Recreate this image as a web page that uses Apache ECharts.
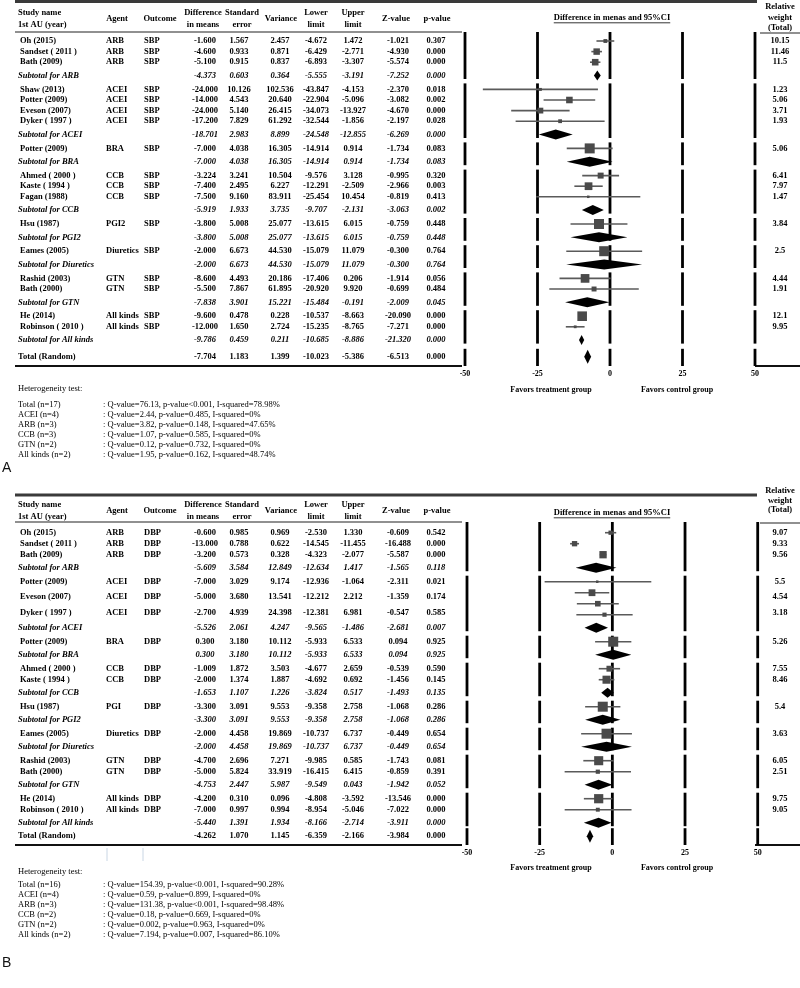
<!DOCTYPE html>
<html><head><meta charset="utf-8">
<script src="https://cdn.jsdelivr.net/npm/echarts@6/dist/echarts.min.js"></script>
<style>html,body{margin:0;padding:0;background:#fff}#c{width:800px;height:988px}</style>
</head><body><div id="c"></div>
<script>
// ================= DATA =================
const groupNames = ['ARB','ACEI','BRA','CCB','PGI2','Diuretics','GTN','All kinds'];
const xTicks = [-50, -25, 0, 25, 50];

// ---- Panel A (SBP) table ----
const A_outcome = 'SBP';
const A_study = ['Oh (2015)','Sandset ( 2011 )','Bath (2009)','Shaw (2013)','Potter (2009)','Eveson (2007)','Dyker ( 1997 )','Potter (2009)','Ahmed ( 2000 )','Kaste ( 1994 )','Fagan (1988)','Hsu (1987)','Eames (2005)','Rashid (2003)','Bath (2000)','He (2014)','Robinson ( 2010 )'];
const A_group = [0,0,0,1,1,1,1,2,3,3,3,4,5,6,6,7,7];
const A_agent = ['ARB','ARB','ARB','ACEI','ACEI','ACEI','ACEI','BRA','CCB','CCB','CCB','PGI2','Diuretics','GTN','GTN','All kinds','All kinds'];
const A_diff = [-1.6,-4.6,-5.1,-24,-14,-24,-17.2,-7,-3.224,-7.4,-7.5,-3.8,-2,-8.6,-5.5,-9.6,-12];
const A_se = [1.567,0.933,0.915,10.126,4.543,5.140,7.829,4.038,3.241,2.495,9.160,5.008,6.673,4.493,7.867,0.478,1.650];
const A_var = [2.457,0.871,0.837,102.536,20.640,26.415,61.292,16.305,10.504,6.227,83.911,25.077,44.530,20.186,61.895,0.228,2.724];
const A_lower = [-4.672,-6.429,-6.893,-43.847,-22.904,-34.073,-32.544,-14.914,-9.576,-12.291,-25.454,-13.615,-15.079,-17.406,-20.920,-10.537,-15.235];
const A_upper = [1.472,-2.771,-3.307,-4.153,-5.096,-13.927,-1.856,0.914,3.128,-2.509,10.454,6.015,11.079,0.206,9.920,-8.663,-8.765];
const A_z = [-1.021,-4.930,-5.574,-2.370,-3.082,-4.670,-2.197,-1.734,-0.995,-2.966,-0.819,-0.759,-0.300,-1.914,-0.699,-20.090,-7.271];
const A_p = [0.307,0,0,0.018,0.002,0,0.028,0.083,0.320,0.003,0.413,0.448,0.764,0.056,0.484,0,0];
const A_weight = ['10.15','11.46','11.5','1.23','5.06','3.71','1.93','5.06','6.41','7.97','1.47','3.84','2.5','4.44','1.91','12.1','9.95'];
const A_subDiff = [-4.373,-18.701,-7.000,-5.919,-3.800,-2.000,-7.838,-9.786];
const A_subSe = [0.603,2.983,4.038,1.933,5.008,6.673,3.901,0.459];
const A_subVar = [0.364,8.899,16.305,3.735,25.077,44.530,15.221,0.211];
const A_subLower = [-5.555,-24.548,-14.914,-9.707,-13.615,-15.079,-15.484,-10.685];
const A_subUpper = [-3.191,-12.855,0.914,-2.131,6.015,11.079,-0.191,-8.886];
const A_subZ = [-7.252,-6.269,-1.734,-3.063,-0.759,-0.300,-2.009,-21.320];
const A_subP = [0,0,0.083,0.002,0.448,0.764,0.045,0];
const A_total = [-7.704,1.183,1.399,-10.023,-5.386,-6.513,0];
// Panel A plotted marks (as drawn)
const A_plotGroup = A_group;
const A_plotEst = A_diff;
const A_plotLo = A_lower;
const A_plotHi = A_upper;
const A_plotSubEst = A_subDiff;
const A_plotSubLo = A_subLower;
const A_plotSubHi = A_subUpper;
const A_plotTotal = [-7.7, -8.9, -6.5];
const A_hetLabels = ['Total (n=17)','ACEI (n=4)','ARB (n=3)','CCB (n=3)','GTN (n=2)','All kinds (n=2)'];
const A_hetText = [': Q-value=76.13, p-value<0.001, I-squared=78.98%', ': Q-value=2.44, p-value=0.485, I-squared=0%', ': Q-value=3.82, p-value=0.148, I-squared=47.65%', ': Q-value=1.07, p-value=0.585, I-squared=0%', ': Q-value=0.12, p-value=0.732, I-squared=0%', ': Q-value=1.95, p-value=0.162, I-squared=48.74%'];

// ---- Panel B (DBP) table ----
const B_outcome = 'DBP';
const B_study = ['Oh (2015)','Sandset ( 2011 )','Bath (2009)','Potter (2009)','Eveson (2007)','Dyker ( 1997 )','Potter (2009)','Ahmed ( 2000 )','Kaste ( 1994 )','Hsu (1987)','Eames (2005)','Rashid (2003)','Bath (2000)','He (2014)','Robinson ( 2010 )'];
const B_group = [0,0,0,1,1,1,2,3,3,4,5,6,6,7,7];
const B_agent = ['ARB','ARB','ARB','ACEI','ACEI','ACEI','BRA','CCB','CCB','PGI','Diuretics','GTN','GTN','All kinds','All kinds'];
const B_diff = [-0.6,-13,-3.2,-7,-5,-2.7,0.3,-1.009,-2,-3.3,-2,-4.7,-5,-4.2,-7];
const B_se = [0.985,0.788,0.573,3.029,3.680,4.939,3.180,1.872,1.374,3.091,4.458,2.696,5.824,0.310,0.997];
const B_var = [0.969,0.622,0.328,9.174,13.541,24.398,10.112,3.503,1.887,9.553,19.869,7.271,33.919,0.096,0.994];
const B_lower = [-2.530,-14.545,-4.323,-12.936,-12.212,-12.381,-5.933,-4.677,-4.692,-9.358,-10.737,-9.985,-16.415,-4.808,-8.954];
const B_upper = [1.330,-11.455,-2.077,-1.064,2.212,6.981,6.533,2.659,0.692,2.758,6.737,0.585,6.415,-3.592,-5.046];
const B_z = [-0.609,-16.488,-5.587,-2.311,-1.359,-0.547,0.094,-0.539,-1.456,-1.068,-0.449,-1.743,-0.859,-13.546,-7.022];
const B_p = [0.542,0,0,0.021,0.174,0.585,0.925,0.590,0.145,0.286,0.654,0.081,0.391,0,0];
const B_weight = ['9.07','9.33','9.56','5.5','4.54','3.18','5.26','7.55','8.46','5.4','3.63','6.05','2.51','9.75','9.05'];
const B_subDiff = [-5.609,-5.526,0.300,-1.653,-3.300,-2.000,-4.753,-5.440];
const B_subSe = [3.584,2.061,3.180,1.107,3.091,4.458,2.447,1.391];
const B_subVar = [12.849,4.247,10.112,1.226,9.553,19.869,5.987,1.934];
const B_subLower = [-12.634,-9.565,-5.933,-3.824,-9.358,-10.737,-9.549,-8.166];
const B_subUpper = [1.417,-1.486,6.533,0.517,2.758,6.737,0.043,-2.714];
const B_subZ = [-1.565,-2.681,0.094,-1.493,-1.068,-0.449,-1.942,-3.911];
const B_subP = [0.118,0.007,0.925,0.135,0.286,0.654,0.052,0];
const B_total = [-4.262,1.070,1.145,-6.359,-2.166,-3.984,0];
// Panel B plotted marks (as drawn in the figure)
const B_plotGroup = [0,0,0,1,1,1,1,2,3,3,4,5,6,6,7,7];
const B_plotEst = [-0.6,-13,-3.2,-5.2,-7,-5,-2.7,0.3,-1.009,-2,-3.3,-2,-4.7,-5,-4.7,-5];
const B_plotLo = [-2.53,-14.545,-4.323,-23.3,-12.936,-12.212,-12.381,-5.933,-4.677,-4.692,-9.358,-10.737,-9.985,-16.415,-9.8,-16.4];
const B_plotHi = [1.33,-11.455,-2.077,13.4,-1.064,2.212,6.981,6.533,2.659,0.692,2.758,6.737,0.585,6.415,0.0,6.6];
const B_plotSubEst = [-5.609,-5.526,0.3,-1.653,-3.3,-2,-4.753,-4.75];
const B_plotSubLo = [-12.634,-9.565,-5.933,-3.824,-9.358,-10.737,-9.549,-9.8];
const B_plotSubHi = [1.417,-1.486,6.533,0.517,2.758,6.737,0.043,-0.3];
const B_plotTotal = [-7.7, -8.8, -6.6];
const B_hetLabels = ['Total (n=16)','ACEI (n=4)','ARB (n=3)','CCB (n=2)','GTN (n=2)','All kinds (n=2)'];
const B_hetText = [': Q-value=154.39, p-value<0.001, I-squared=90.28%', ': Q-value=0.59, p-value=0.899, I-squared=0%', ': Q-value=131.38, p-value<0.001, I-squared=98.48%', ': Q-value=0.18, p-value=0.669, I-squared=0%', ': Q-value=0.002, p-value=0.963, I-squared=0%', ': Q-value=7.194, p-value=0.007, I-squared=86.10%'];

// ================= LAYOUT / STYLE =================
const SERIF = '"Liberation Serif","Times New Roman",serif';
const FS = 8.5;
const COL = { name: 20, nameSub: 18, agent: 106, outcome: 144, nums: [205, 239, 280, 316, 353, 398, 436], weight: 780 };
const HDR = [
  { t: ['Agent'], x: 117 }, { t: ['Outcome'], x: 160 }, { t: ['Difference', 'in means'], x: 203 },
  { t: ['Standard', 'error'], x: 242 }, { t: ['Variance'], x: 281 }, { t: ['Lower', 'limit'], x: 316 },
  { t: ['Upper', 'limit'], x: 353 }, { t: ['Z-value'], x: 396 }, { t: ['p-value'], x: 437 }
];
const LAY = {
  A: { top: 1.5, hdr1: 13, hdr2: 25, hdrMid: 19, hdrLine: 32, firstRow: 41, ss: 10.6, sb: 13.3, bs: 13.9, bt: 16.7, bottom: 366,
       favorsY: 390, titleY: 18, rw: [7, 18, 28], fLeft: 465, fWidth: 290, hetTitle: 388.3, het0: 405, hetStep: 9.9, label: 'A', labelY: 468, totalH: 14 },
  B: { top: 495, hdr1: 505, hdr2: 516.7, hdrMid: 511, hdrLine: 522, firstRow: 532.7, ss: 11.0, sb: 13.0, bs: 14.0, bt: 13.5, bottom: 845,
       favorsY: 868, titleY: 513, rw: [491, 500.5, 510], fLeft: 467, fWidth: 290.7, hetTitle: 871.7, het0: 885, hetStep: 10, label: 'B', labelY: 963, totalH: 13 }
};

const PANELS = {
  A: { outcome: A_outcome, study: A_study, group: A_group, agent: A_agent,
       nums: [A_diff, A_se, A_var, A_lower, A_upper, A_z, A_p], weight: A_weight,
       sub: [A_subDiff, A_subSe, A_subVar, A_subLower, A_subUpper, A_subZ, A_subP], total: A_total,
       pGroup: A_plotGroup, pEst: A_plotEst, pLo: A_plotLo, pHi: A_plotHi,
       pSubEst: A_plotSubEst, pSubLo: A_plotSubLo, pSubHi: A_plotSubHi, pTotal: A_plotTotal,
       hetL: A_hetLabels, hetT: A_hetText },
  B: { outcome: B_outcome, study: B_study, group: B_group, agent: B_agent,
       nums: [B_diff, B_se, B_var, B_lower, B_upper, B_z, B_p], weight: B_weight,
       sub: [B_subDiff, B_subSe, B_subVar, B_subLower, B_subUpper, B_subZ, B_subP], total: B_total,
       pGroup: B_plotGroup, pEst: B_plotEst, pLo: B_plotLo, pHi: B_plotHi,
       pSubEst: B_plotSubEst, pSubLo: B_plotSubLo, pSubHi: B_plotSubHi, pTotal: B_plotTotal,
       hetL: B_hetLabels, hetT: B_hetText }
};

const fmt = v => (Math.abs(v) < 1e-12 ? 0 : v).toFixed(3);
const measureCtx = document.createElement('canvas').getContext('2d');
function textW(s, font) { measureCtx.font = font; return measureCtx.measureText(s).width; }

function gText(x, y, s, o) {
  o = o || {};
  const st = { text: s, fill: o.fill || '#000', fontSize: o.size || FS, fontFamily: o.family || SERIF,
    fontWeight: o.weight || 'bold', fontStyle: o.style || 'normal',
    align: o.align || 'left', textAlign: o.align || 'left', verticalAlign: 'middle', textVerticalAlign: 'middle' };
  return { type: 'text', x: x, y: y, silent: true, style: st };
}
function gLine(x1, y1, x2, y2, stroke, w) {
  return { type: 'line', silent: true, shape: { x1, y1, x2, y2 }, style: { stroke, lineWidth: w } };
}

const option = { animation: false, grid: [], xAxis: [], yAxis: [], series: [], graphic: { elements: [] } };

function buildPanel(key) {
  const P = PANELS[key], L = LAY[key];
  const gi = option.grid.length;
  // ---- row layout ----
  let y = L.firstRow, prev = null;
  const adv = kind => { if (prev !== null) y += prev === 's' ? (kind === 's' ? L.ss : L.sb) : (kind === 's' ? L.bs : L.bt); prev = kind; };
  const plotRows = [], groupInfo = [];
  groupNames.forEach((gn, g) => {
    const ids = P.pGroup.map((gg, i) => gg === g ? i : -1).filter(i => i >= 0);
    const ys = [];
    // marker sizes from within-group inverse-variance share (derived from drawn CI)
    const w = ids.map(i => { const se = (P.pHi[i] - P.pLo[i]) / 3.92; return 1 / (se * se); });
    const sw = w.reduce((a, b) => a + b, 0);
    ids.forEach((i, k) => { adv('s'); ys.push(y); plotRows.push([P.pEst[i], P.pLo[i], P.pHi[i], y, 0, Math.max(2.5, 10 * Math.sqrt(w[k] / sw))]); });
    adv('b');
    plotRows.push([P.pSubEst[g], P.pSubLo[g], P.pSubHi[g], y, 1, 0]);
    groupInfo.push({ ys, subY: y });
  });
  adv('t');
  const totalY = y;
  plotRows.push([P.pTotal[0], P.pTotal[1], P.pTotal[2], totalY, 2, 0]);

  const tableRows = [];
  groupNames.forEach((gn, g) => {
    const ids = P.group.map((gg, i) => gg === g ? i : -1).filter(i => i >= 0);
    const info = groupInfo[g];
    const ys = ids.length === info.ys.length ? info.ys : ids.map((_, k) => info.ys[0] + k * (info.subY - info.ys[0]) / ids.length);
    ids.forEach((i, k) => tableRows.push({ kind: 's', y: ys[k], name: P.study[i], agent: P.agent[i], outcome: P.outcome,
      nums: P.nums.map(a => a[i]), weight: P.weight[i] }));
    tableRows.push({ kind: 'b', y: info.subY, name: 'Subtotal for ' + gn, nums: P.sub.map(a => a[g]) });
  });
  tableRows.push({ kind: 't', y: totalY, name: 'Total (Random)', nums: P.total });

  const segs = groupInfo.map((info, g) => [0, g === 0 ? L.hdrLine : info.ys[0] - 6, info.subY + 3.5]);
  segs.push([0, totalY - 8, L.bottom]);

  // ---- grids / axes ----
  const h = L.bottom - L.hdrLine;
  option.grid.push({ left: 0, top: L.hdrLine, width: 800, height: h, outerBoundsMode: 'none' });
  option.grid.push({ left: L.fLeft, top: L.hdrLine, width: L.fWidth, height: h, outerBoundsMode: 'none' });
  option.xAxis.push({ gridIndex: gi, type: 'value', min: 0, max: 800, show: false });
  option.xAxis.push({ gridIndex: gi + 1, type: 'value', min: xTicks[0], max: xTicks[xTicks.length - 1], interval: 25, position: 'bottom',
    axisLine: { show: false }, axisTick: { show: false }, splitLine: { show: false },
    axisLabel: { show: true, margin: 3.5, fontSize: 8, fontWeight: 'bold', fontFamily: SERIF, color: '#000', showMinLabel: true, showMaxLabel: true } });
  option.yAxis.push({ gridIndex: gi, type: 'value', min: L.hdrLine, max: L.bottom, inverse: true, show: false });
  option.yAxis.push({ gridIndex: gi + 1, type: 'value', min: L.hdrLine, max: L.bottom, inverse: true, show: false });

  // table text
  option.series.push({
    type: 'custom', coordinateSystem: 'cartesian2d', xAxisIndex: gi, yAxisIndex: gi, silent: true, clip: false,
    data: tableRows.map(r => [0, r.y]), encode: { x: 0, y: 1 },
    renderItem: (params, api) => {
      const r = tableRows[params.dataIndex];
      const yy = api.value(1);
      const st = r.kind === 'b' ? 'italic' : 'normal';
      const T = (x, s, align) => { const p = api.coord([x, yy]); return { type: 'text', x: p[0], y: p[1],
        style: { text: s, fill: '#000', fontSize: FS, fontFamily: SERIF, fontWeight: 'bold', fontStyle: st,
          align: align, textAlign: align, verticalAlign: 'middle', textVerticalAlign: 'middle' } }; };
      const kids = [T(r.kind === 's' ? COL.name : COL.nameSub, r.name, 'left')];
      if (r.agent) kids.push(T(COL.agent, r.agent, 'left'));
      if (r.outcome) kids.push(T(COL.outcome, r.outcome, 'left'));
      r.nums.forEach((v, k) => kids.push(T(COL.nums[k], fmt(v), 'center')));
      if (r.weight) kids.push(T(COL.weight, r.weight, 'center'));
      return { type: 'group', children: kids };
    }
  });
  // segmented vertical reference lines
  option.series.push({
    type: 'custom', coordinateSystem: 'cartesian2d', xAxisIndex: gi + 1, yAxisIndex: gi + 1, silent: true, clip: false, z: 1,
    data: segs, encode: { x: 0, y: [1, 2] },
    renderItem: (params, api) => {
      const y1 = api.value(1), y2 = api.value(2);
      return { type: 'group', children: xTicks.map(t => {
        const a = api.coord([t, y1]), b = api.coord([t, y2]);
        return { type: 'line', shape: { x1: a[0], y1: a[1], x2: b[0], y2: b[1] }, style: { stroke: '#000', lineWidth: 2.8 } };
      }) };
    }
  });
  // forest marks
  option.series.push({
    type: 'custom', coordinateSystem: 'cartesian2d', xAxisIndex: gi + 1, yAxisIndex: gi + 1, silent: true, clip: false, z: 3,
    data: plotRows, encode: { x: [0, 1, 2], y: 3 },
    renderItem: (params, api) => {
      const est = api.value(0), lo = api.value(1), hi = api.value(2), yy = api.value(3), kind = api.value(4), sz = api.value(5);
      const pE = api.coord([est, yy]), pL = api.coord([lo, yy]), pH = api.coord([hi, yy]);
      if (kind === 0) return { type: 'group', children: [
        { type: 'line', shape: { x1: pL[0], y1: pE[1], x2: pH[0], y2: pE[1] }, style: { stroke: '#5a5a5a', lineWidth: 1.6 } },
        { type: 'rect', shape: { x: pE[0] - sz / 2, y: pE[1] - sz / 2, width: sz, height: sz }, style: { fill: '#4a4a4a' } }
      ] };
      const hh = kind === 1 ? 10 : L.totalH;
      return { type: 'polygon', shape: { points: [[pL[0], pE[1]], [pE[0], pE[1] - hh / 2], [pH[0], pE[1]], [pE[0], pE[1] + hh / 2]] }, style: { fill: '#000' } };
    }
  });

  // ---- decorations / headers ----
  const E = option.graphic.elements;
  E.push(gLine(15, L.top, 757, L.top, '#3a3a3a', 3));
  E.push(gLine(15, L.hdrLine, 462, L.hdrLine, '#222', 1.2));
  E.push(gLine(760, L.hdrLine + 1, 800, L.hdrLine + 1, '#222', 1.2));
  E.push(gLine(15, L.bottom, 462, L.bottom, '#111', 2));
  E.push(gLine(755, L.bottom, 800, L.bottom, '#111', 2));
  E.push(gText(18, L.hdr1, 'Study name'));
  E.push(gText(18, L.hdr2, '1st AU (year)'));
  HDR.forEach(hd => {
    if (hd.t.length === 1) E.push(gText(hd.x, L.hdrMid, hd.t[0], { align: 'center' }));
    else { E.push(gText(hd.x, L.hdr1, hd.t[0], { align: 'center' })); E.push(gText(hd.x, L.hdr2, hd.t[1], { align: 'center' })); }
  });
  ['Relative', 'weight', '(Total)'].forEach((s, k) => E.push(gText(780, L.rw[k], s, { align: 'center' })));
  const title = 'Difference in menas and 95%CI';
  const tw = textW(title, 'bold ' + FS + 'px ' + SERIF);
  E.push(gText(612, L.titleY, title, { align: 'center' }));
  E.push(gLine(612 - tw / 2, L.titleY + 4.8, 612 + tw / 2, L.titleY + 4.8, '#000', 0.8));
  E.push(gText(551, L.favorsY, 'Favors treatment group', { align: 'center', size: 8 }));
  E.push(gText(677, L.favorsY, 'Favors control group', { align: 'center', size: 8 }));
  E.push(gText(18, L.hetTitle, 'Heterogeneity test:', { weight: 'normal' }));
  P.hetL.forEach((s, k) => {
    E.push(gText(18, L.het0 + k * L.hetStep, s, { weight: 'normal' }));
    E.push(gText(103, L.het0 + k * L.hetStep, P.hetT[k], { weight: 'normal' }));
  });
  E.push(gText(2, L.labelY, L.label, { family: '"Liberation Sans",Arial,sans-serif', size: 14, weight: 'normal', fill: '#111' }));
}

buildPanel('A');
buildPanel('B');
// faint scan marks in panel B
option.graphic.elements.push(gLine(107, 848, 107, 861, '#c9d6e4', 1));
option.graphic.elements.push(gLine(143, 848, 143, 861, '#c9d6e4', 1));

const chart = echarts.init(document.getElementById('c'), null, { renderer: 'canvas' });
chart.setOption(option);
</script>
</body></html>
